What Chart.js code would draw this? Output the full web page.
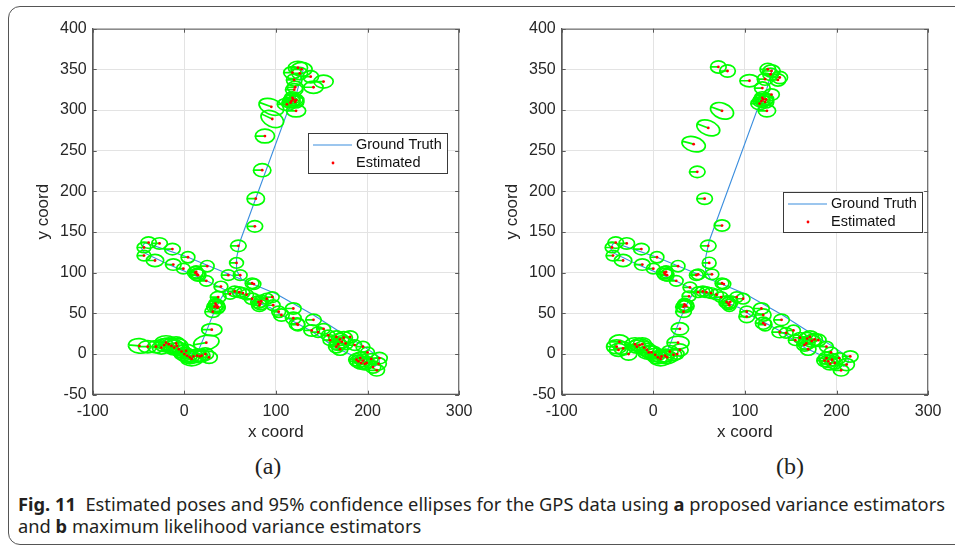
<!DOCTYPE html>
<html>
<head>
<meta charset="utf-8">
<script src="https://cdn.jsdelivr.net/npm/chart.js@4.4.0/dist/chart.umd.min.js"></script>
<style>
  body { margin: 0; width: 955px; height: 547px; overflow: hidden; background: #fff; position: relative; }
  .frame { position: absolute; left: 8px; top: 6px; width: 1000px; height: 537px;
           border: 1.5px solid #555; border-radius: 12px; }
  .panel { position: absolute; top: 10px; width: 460px; height: 440px; }
  #panelA { left: 20px; }
  #panelB { left: 489px; }
  .sub { position: absolute; top: 451px; width: 60px; margin-left: -30px; text-align: center;
         font-family: "Liberation Serif", serif; font-size: 24px; line-height: 30px; color: #222; }
  .caption { position: absolute; left: 18px; top: 493px; font-family: "Noto Sans", sans-serif;
             font-size: 18.5px; line-height: 22px; color: #231f20; white-space: nowrap;
             transform-origin: 0 0; }
  .caption b { font-weight: 700; }
</style>
</head>
<body>
<div class="frame"></div>
<canvas id="panelA" class="panel" width="460" height="440"></canvas>
<canvas id="panelB" class="panel" width="460" height="440"></canvas>
<div class="sub" style="left:268px">(a)</div>
<div class="sub" style="left:790px">(b)</div>
<div class="caption" id="caption">
  <div id="capLine"><b>Fig. 11</b>&nbsp; Estimated poses and 95% confidence ellipses for the GPS data using <b>a</b> proposed variance estimators</div>
  <div>and <b>b</b> maximum likelihood variance estimators</div>
</div>
<script>
// axis ticks
const xTicks = [-100, 0, 100, 200, 300];
const yTicks = [-50, 0, 50, 100, 150, 200, 250, 300, 350, 400];

// ground truth track (null splits the north spur off the main loop)
const gtX = [-5, 12, 16, 22, 29, 35, 41, 46, 21, -19, -43, -47, -43, 4, 62, 100, 141, 170, 195, 212, 213, 208, 192, 165, 139, 106, 94, 46,
             null,
             63, 57, 57, 61, 113, 121, 126, 130];
const gtY = [3, 0, 6, 22, 42, 58, 70, 78, 92, 111, 124, 130, 137, 119, 92, 74, 48, 27, 10, -3, -10, -15, -6, 8, 28, 48, 57, 78,
             null,
             91, 103, 118, 139, 299, 314, 335, 350];

// estimated poses: [x, y, semi-axis x, semi-axis y, tilt in degrees]
const posesA = [
  [-49, 10, 12, 9, 5], [-40, 9, 10, 7.5, 0], [-31, 9, 9, 7.5, 0], [-22, 11, 10, 8, 0], [-17, 12, 11, 8, 0],
  [-14, 10, 12, 9, 0], [-11, 8, 11, 9, 0], [-9, 13, 10, 8, 0], [-6, 6, 11, 8, 0], [-3, 3, 10, 8, 0],
  [0, 0, 11, 8, 0], [3, -2, 11, 8, 0], [6, -4, 10, 8, 0], [10, -3, 11, 8, 0], [14, -2, 10, 8, 0],
  [19, -2, 9, 7.5, 0], [23, 0, 9, 7.5, 0], [27, -4, 9, 7.5, 0], [17, -3, 9, 6.5, 0],
  [-20, 14, 12, 8.5, 0], [-8, 10, 12, 9, 0], [2, 4, 11, 8, 0], [8, -6, 12, 8.5, 0], [-25, 8, 10, 8, 0],
  [24, 14, 14, 9, -10], [30, 30, 11, 7.5, 0], [31, 52, 8.5, 7, 0], [33, 58, 8.5, 7.5, 0], [35, 60, 8.5, 7.5, 0],
  [37, 58, 7.5, 7.5, 0], [34, 62, 7.5, 6.5, 0], [36, 57, 8.5, 7.5, 0], [37, 70, 8.5, 7, 0], [40, 83, 7.5, 6.5, 0],
  [-39, 137, 8.5, 7, 0], [-27, 136, 8.5, 7, 0], [-44, 131, 7.5, 6.5, 0], [-44, 121, 7.5, 6.5, 0], [-32, 115, 9.5, 7.5, 0],
  [-13, 129, 8.5, 7, 0], [4, 119, 7.5, 7, 0], [-12, 110, 8.5, 7, 0], [-1, 105, 7.5, 6.5, 0],
  [12, 100, 8.5, 7.5, 0], [14, 98, 8.5, 7.5, 0], [13, 101, 7.5, 7.5, 0], [15, 97, 8.5, 7.5, 0],
  [25, 108, 7.5, 7, 0], [24, 90, 7.5, 6.5, 0], [48, 97, 7.5, 6.5, 0],
  [50, 74, 7.5, 6.5, 0], [55, 77, 7.5, 6.5, 0], [60, 76, 7.5, 6.5, 0], [64, 75, 7.5, 6.5, 0], [68, 73, 7.5, 6.5, 0],
  [74, 68, 8.5, 7, 0], [74, 87, 7.5, 6.5, 0], [76, 86, 7.5, 6.5, 0],
  [81, 64, 8.5, 7.5, 0], [83, 62, 8.5, 7.5, 0], [82, 60, 8.5, 7.5, 0], [84, 65, 7.5, 7.5, 0],
  [90, 68, 7.5, 6.5, 0], [96, 70, 7.5, 6.5, 0], [97, 60, 7.5, 6.5, 0], [103, 52, 7.5, 7, 0], [106, 48, 8.5, 7.5, 0],
  [119, 56, 8.5, 7, 0], [119, 44, 8.5, 7.5, 0], [123, 37, 8.5, 7.5, 0], [124, 36, 7.5, 7.5, 0],
  [141, 42, 8.5, 7, 0], [139, 29, 8.5, 7, 0], [146, 27, 7.5, 6.5, 0], [152, 31, 7.5, 6.5, 0], [157, 23, 7.5, 6.5, 0],
  [159, 17, 7.5, 6.5, 0], [166, 21, 8.5, 7.5, 0], [170, 18, 9.5, 7.5, 0], [172, 15, 9.5, 7.5, 0], [174, 20, 9.5, 7.5, 0],
  [168, 12, 9.5, 7.5, 0], [176, 13, 8.5, 7.5, 0], [166, 9, 8.5, 7.5, 0], [170, 6, 8.5, 7.5, 0], [181, 21, 8.5, 7.5, 0],
  [186, 11, 7.5, 6.5, 0], [195, 9, 7.5, 6.5, 0], [200, 2, 7.5, 6.5, 0], [192, -5, 8.5, 7.5, 0],
  [188, -7, 8.5, 7.5, 0], [190, -9, 9.5, 7.5, 0], [193, -11, 9.5, 7.5, 0], [195, -8, 8.5, 7.5, 0], [197, -12, 8.5, 7.5, 0],
  [199, -11, 8.5, 7.5, 0], [204, -6, 7.5, 6.5, 0], [206, -16, 8.5, 7.5, 0], [213, -5, 8.5, 7, 0], [212, -12, 8.5, 7.5, 0],
  [210, -20, 8.5, 7, 0],
  [59, 133, 8.5, 7, 0], [57, 112, 7.5, 6.5, 0], [61, 97, 7.5, 6.5, 0], [77, 157, 8.5, 7, 0], [78, 191, 9.5, 8, 0],
  [85, 226, 9.5, 8, 0], [88, 268, 10.5, 8.5, 0], [96, 289, 13, 9.5, 25], [95, 304, 14, 9.5, 20], [112, 307, 10.5, 7.5, 0],
  [117, 311, 9.5, 7.5, 0], [119, 313, 10.5, 7.5, 0], [121, 310, 9.5, 7.5, 0], [118, 315, 8.5, 7.5, 0], [122, 312, 8.5, 7.5, 0],
  [116, 309, 9.5, 6.5, 0], [122, 299, 10.5, 7.5, 0], [120, 325, 9.5, 7.5, 0], [121, 328, 8.5, 7.5, 0], [120, 337, 8.5, 7.5, 0],
  [118, 346, 9.5, 7.5, 0], [124, 352, 10.5, 8, 0], [128, 350, 11.5, 8.5, 0], [126, 345, 8.5, 7.5, 0], [138, 341, 8.5, 7.5, 0],
  [141, 328, 10.5, 7.5, 0], [152, 335, 10.5, 8, 0]
];

const posesB = [
  [71, 353, 8.5, 7.5, 0], [81, 348, 8.5, 7.5, 0], [105, 336, 10.5, 7.5, 0], [119, 327, 8.5, 7.5, 0], [125, 350, 8.5, 7.5, 0],
  [129, 348, 9.5, 7.5, 0], [122, 338, 8.5, 7.5, 0], [128, 344, 8.5, 7.5, 0], [138, 340, 8.5, 7.5, 0], [136, 337, 8.5, 7.5, 0],
  [129, 319, 8.5, 7, 0], [118, 311, 9.5, 7.5, 0], [120, 313, 10.5, 7.5, 0], [122, 310, 9.5, 7.5, 0], [119, 315, 8.5, 7.5, 0],
  [116, 308, 9.5, 7.5, 0], [123, 313, 8.5, 7.5, 0], [124, 299, 9.5, 7.5, 0],
  [75, 299, 13, 9.5, 20], [60, 278, 13, 9, 20], [44, 258, 13, 9, 15], [48, 224, 8.5, 7, 0], [56, 191, 8.5, 7, 0],
  [75, 158, 8.5, 7, 0], [60, 133, 8.5, 7, 0], [61, 112, 7.5, 7, 0], [64, 98, 7.5, 6.5, 0], [49, 98, 7.5, 6.5, 0],
  [75, 87, 7.5, 6.5, 0], [77, 86, 7.5, 6.5, 0], [40, 82, 7.5, 6.5, 0], [39, 71, 7.5, 6.5, 0],
  [35, 60, 8.5, 7.5, 0], [33, 58, 8.5, 7.5, 0], [36, 59, 8.5, 7.5, 0], [34, 61, 7.5, 7.5, 0], [33, 52, 8.5, 7, 0],
  [29, 31, 9.5, 7.5, 0], [27, 14, 12, 8, 0],
  [-40, 9, 11, 8.5, 0], [-37, 15, 11, 8.5, 0], [-33, 7, 10, 8, 0], [-27, 0, 9, 7.5, 0], [-18, 9, 10, 8, 0],
  [-15, 11, 11, 8, 0], [-12, 12, 10, 8, 0], [-10, 8, 11, 8, 0], [-7, 5, 11, 8, 0], [-2, 2, 11, 8, 0],
  [2, -1, 11, 8, 0], [5, -4, 11, 8, 0], [9, -3, 11, 8, 0], [13, -2, 10, 8, 0], [18, 3, 9, 7.5, 0],
  [22, -1, 9, 7.5, 0], [29, 5, 9, 7.5, 0], [26, 0, 7.5, 6.5, 0],
  [-20, 12, 11, 8, 0], [-5, 2, 12, 8.5, 0], [8, -6, 12, 8.5, 0], [15, -4, 11, 8, 0], [-38, 5, 10, 8, 0],
  [-41, 137, 8.5, 7, 0], [-29, 136, 8.5, 7, 0], [-45, 131, 7.5, 6.5, 0], [-44, 121, 7.5, 6.5, 0], [-33, 115, 9.5, 7.5, 0],
  [-13, 129, 8.5, 7, 0], [4, 119, 7.5, 7, 0], [-12, 110, 8.5, 7, 0], [0, 105, 7.5, 6.5, 0],
  [12, 100, 8.5, 7.5, 0], [13, 98, 8.5, 7.5, 0], [14, 101, 7.5, 7.5, 0], [15, 97, 7.5, 7.5, 0],
  [27, 108, 7.5, 7, 0], [25, 90, 7.5, 6.5, 0], [47, 97, 7.5, 6.5, 0],
  [49, 76, 7.5, 6.5, 0], [54, 77, 7.5, 6.5, 0], [58, 76, 7.5, 6.5, 0], [63, 75, 7.5, 6.5, 0], [69, 73, 7.5, 6.5, 0],
  [74, 70, 7.5, 6.5, 0], [80, 64, 8.5, 7.5, 0], [82, 62, 8.5, 7.5, 0], [84, 64, 8.5, 7.5, 0], [83, 60, 7.5, 7.5, 0],
  [91, 70, 7.5, 6.5, 0], [98, 68, 7.5, 6.5, 0], [102, 52, 7.5, 7, 0], [102, 46, 8.5, 7.5, 0],
  [118, 56, 8.5, 7, 0], [120, 48, 8.5, 7.5, 0], [120, 38, 8.5, 7.5, 0], [122, 36, 7.5, 7.5, 0],
  [140, 42, 8.5, 7, 0], [138, 27, 8.5, 7, 0], [145, 26, 7.5, 6.5, 0], [153, 29, 7.5, 6.5, 0], [155, 17, 7.5, 6.5, 0],
  [160, 20, 7.5, 6.5, 0], [168, 19, 9.5, 7.5, 0], [171, 21, 9.5, 7.5, 0], [173, 16, 9.5, 7.5, 0], [167, 13, 9.5, 7.5, 0],
  [176, 18, 8.5, 7.5, 0], [165, 11, 8.5, 7.5, 0], [169, 6, 8.5, 7.5, 0], [180, 17, 8.5, 7.5, 0], [189, 9, 7.5, 6.5, 0],
  [194, 2, 7.5, 6.5, 0], [189, -5, 8.5, 7.5, 0], [187, -8, 8.5, 7.5, 0], [191, -9, 9.5, 7.5, 0], [193, -12, 9.5, 7.5, 0],
  [195, -7, 8.5, 7.5, 0], [198, -11, 8.5, 7.5, 0], [203, -5, 7.5, 6.5, 0], [205, -20, 8.5, 7, 0], [215, -3, 8.5, 7, 0],
  [211, -13, 8.5, 7.5, 0]
];

const axisFont = { family: '"Liberation Sans", Arial, sans-serif', size: 16 };
const titleFont = { family: '"Liberation Sans", Arial, sans-serif', size: 17 };
const inkColor = '#262626';
const boxColor = '#5a5a5a';

// confidence ellipses, drawn over the track but under the red dots
const ellipsePlugin = {
  id: 'ellipses',
  afterDatasetDraw(chart, args) {
    if (args.index !== 0) return;
    const { ctx, chartArea, scales: { x, y } } = chart;
    ctx.save();
    ctx.beginPath();
    ctx.rect(chartArea.left, chartArea.top, chartArea.width, chartArea.height);
    ctx.clip();
    ctx.strokeStyle = '#00ff00';
    ctx.lineWidth = 1.7;
    chart.data.datasets[1].data.forEach(p => {
      const cx = x.getPixelForValue(p.x);
      const cy = y.getPixelForValue(p.y);
      const ax = Math.abs(x.getPixelForValue(p.x + p.rx) - cx);
      const ay = Math.abs(y.getPixelForValue(p.y + p.ry) - cy);
      ctx.beginPath();
      ctx.moveTo(cx, cy);
      ctx.ellipse(cx, cy, ax, ay, p.rot * Math.PI / 180, Math.PI, 3 * Math.PI);
      ctx.stroke();
    });
    ctx.restore();
  }
};

// full axes box with inward tick marks, then the legend inside the plot
const boxPlugin = {
  id: 'axesBox',
  afterDraw(chart, args, opts) {
    const { ctx, chartArea: a, scales: { x, y } } = chart;
    ctx.save();
    ctx.strokeStyle = boxColor;
    ctx.lineWidth = 1;
    ctx.strokeRect(a.left + 0.5, a.top + 0.5, a.width - 1, a.height - 1);
    ctx.beginPath();
    xTicks.forEach(v => {
      const px = Math.round(x.getPixelForValue(v)) + 0.5;
      ctx.moveTo(px, a.bottom); ctx.lineTo(px, a.bottom - 4);
      ctx.moveTo(px, a.top); ctx.lineTo(px, a.top + 4);
    });
    yTicks.forEach(v => {
      const py = Math.round(y.getPixelForValue(v)) + 0.5;
      ctx.moveTo(a.left, py); ctx.lineTo(a.left + 4, py);
      ctx.moveTo(a.right, py); ctx.lineTo(a.right - 4, py);
    });
    ctx.stroke();

    const lx = a.left + opts.dx, ly = a.top + opts.dy, w = 139, h = 40;
    ctx.fillStyle = '#fff';
    ctx.fillRect(lx, ly, w, h);
    ctx.strokeStyle = '#3a3a3a';
    ctx.strokeRect(lx + 0.5, ly + 0.5, w, h);
    const [gt, est] = chart.data.datasets;
    ctx.strokeStyle = gt.borderColor;
    ctx.lineWidth = gt.borderWidth;
    ctx.beginPath();
    ctx.moveTo(lx + 5, ly + 12); ctx.lineTo(lx + 44, ly + 12);
    ctx.stroke();
    ctx.fillStyle = est.pointBackgroundColor;
    ctx.beginPath();
    ctx.arc(lx + 25, ly + 30, 1.4, 0, 2 * Math.PI);
    ctx.fill();
    ctx.fillStyle = '#111';
    ctx.font = '14.5px "Liberation Sans", Arial, sans-serif';
    ctx.textBaseline = 'middle';
    ctx.fillText(gt.label, lx + 48, ly + 12);
    ctx.fillText(est.label, lx + 48, ly + 30);
    ctx.restore();
  }
};

function makePanel(id, poses, legendPos) {
  const track = gtX.map((v, i) => ({ x: v, y: gtY[i] }));
  const points = poses.map(p => ({ x: p[0], y: p[1], rx: p[2], ry: p[3], rot: p[4] }));
  return new Chart(document.getElementById(id), {
    type: 'scatter',
    data: {
      datasets: [
        { label: 'Ground Truth', data: track, showLine: true, spanGaps: false, borderColor: '#3b8ede',
          borderWidth: 1.1, pointRadius: 0, order: 2 },
        { label: 'Estimated', data: points, pointRadius: 1.4, pointBorderWidth: 0,
          pointBackgroundColor: '#ff0000', backgroundColor: '#ff0000', order: 1 }
      ]
    },
    options: {
      responsive: false,
      animation: false,
      layout: { padding: { top: 18.7, right: 20.7, left: 0, bottom: 0 } },
      plugins: { legend: { display: false }, tooltip: { enabled: false }, axesBox: legendPos },
      scales: {
        x: {
          type: 'linear', min: -100, max: 300,
          afterBuildTicks: s => { s.ticks = xTicks.map(v => ({ value: v })); },
          afterFit: s => { s.height = 55.3; },
          ticks: { color: inkColor, font: axisFont, padding: 7.5 },
          grid: { color: '#e3e3e3', drawTicks: false },
          border: { color: boxColor },
          title: { display: true, text: 'x coord', color: inkColor, font: titleFont, padding: { bottom: 7 } }
        },
        y: {
          type: 'linear', min: -50, max: 400,
          afterBuildTicks: s => { s.ticks = yTicks.map(v => ({ value: v })); },
          afterFit: s => { s.width = 72.7; },
          ticks: { color: inkColor, font: axisFont, padding: 6 },
          grid: { color: '#e3e3e3', drawTicks: false },
          border: { color: boxColor },
          title: { display: true, text: 'y coord', color: inkColor, font: titleFont, padding: { top: 13 } }
        }
      }
    },
    plugins: [ellipsePlugin, boxPlugin]
  });
}

makePanel('panelA', posesA, { dx: 215.3, dy: 104.3 });
makePanel('panelB', posesB, { dx: 221.3, dy: 163.3 });

// squeeze the caption so its first line spans the figure width
function fitCaption() {
  const cap = document.getElementById('caption');
  const line = document.getElementById('capLine');
  cap.style.transform = 'none';
  const w = line.getBoundingClientRect().width;
  cap.style.transform = 'scaleX(' + (927 / w) + ')';
}
fitCaption();
document.fonts.ready.then(fitCaption);
</script>
</body>
</html>
